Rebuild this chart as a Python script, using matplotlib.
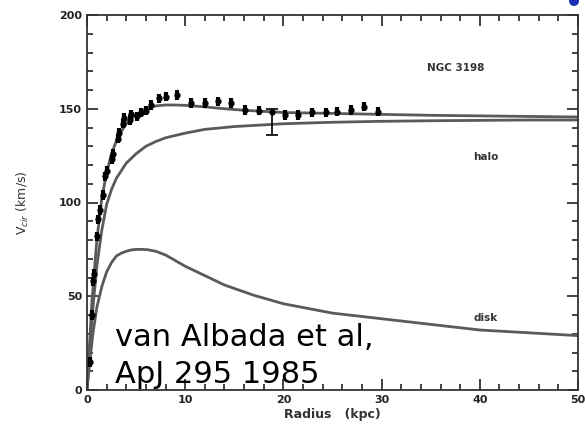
import numpy as np
import matplotlib.pyplot as plt
from matplotlib.ticker import MultipleLocator
from matplotlib.patches import Ellipse

# observed rotation curve points (kpc, km/s)
r_obs = [0.3, 0.5, 0.65, 0.75, 1.0, 1.15, 1.35, 1.6, 1.85, 2.0, 2.5, 2.6, 3.2, 3.25,
         3.7, 3.8, 4.4, 4.5, 5.1, 5.5, 6.0, 6.5, 7.3, 8.0, 9.2,
         10.6, 12.0, 13.3, 14.7, 16.1, 17.5, 20.2, 21.5, 22.9, 24.3, 25.5, 26.9, 28.2, 29.6]
v_obs = [15, 40, 58, 62, 82, 91, 96, 104, 114, 117, 123, 126, 134, 137,
         142, 145, 144, 147, 146, 148, 149, 152, 155.5, 156.4, 157.3,
         153, 153, 154, 153, 149.3, 149, 146.7, 146.7, 148.1, 148.1, 148.4, 149.3, 151.1, 148.4]
verr = 2.5

# the one point with a big asymmetric error bar
r_big = [18.8]
v_big = [148.1]
err_lo = [12]
err_hi = [2]

# model curves
r_tot = [0, 0.5, 1, 1.5, 2, 2.5, 3, 3.5, 4, 5, 6, 7, 8, 9, 10, 12, 14, 16, 18, 20, 25, 30, 35, 40, 45, 50]
v_tot = [0, 47, 80, 102, 116, 126, 133, 138, 142, 147, 150, 151.5, 152, 152, 151.8, 151, 150,
         149.2, 148.6, 148, 147.5, 147, 146.5, 146.2, 145.9, 145.6]

r_halo = [0, 0.5, 1, 1.5, 2, 2.5, 3, 4, 5, 6, 7, 8, 10, 12, 15, 20, 25, 30, 35, 40, 45, 50]
v_halo = [0, 38, 66, 85, 99, 107, 113, 121, 126, 130, 132.5, 134.5, 137, 139, 140.5, 142,
          142.8, 143.3, 143.6, 143.8, 144, 144]

r_disk = [0, 0.3, 0.6, 1, 1.5, 2, 2.5, 3, 3.5, 4, 4.5, 5, 5.6, 6.2, 7, 8, 9, 10, 12, 14, 17,
          20, 25, 30, 35, 40, 45, 50]
v_disk = [0, 16, 30, 44, 55, 63, 68, 71.5, 73, 74, 74.7, 75, 75, 74.8, 74, 72, 69, 66, 61, 56,
          50.5, 46, 41, 38, 35, 32, 30.5, 29]

fig = plt.figure(figsize=(5.85, 4.34), dpi=100)
ax = fig.add_axes([87/585, 44/434, 491/585, 375/434])

lc = '#5a5a5a'
ax.plot(r_tot, v_tot, color=lc, lw=2)
ax.plot(r_halo, v_halo, color=lc, lw=2)
ax.plot(r_disk, v_disk, color=lc, lw=2)

ax.errorbar(r_obs, v_obs, yerr=verr, fmt='o', ms=3.5, color='k', elinewidth=3, capsize=0)
ax.errorbar(r_big, v_big, yerr=[err_lo, err_hi], fmt='o', ms=3.5, color='k',
            elinewidth=1.2, capsize=4, capthick=1.2)

ax.set_xlim(0, 50)
ax.set_ylim(0, 200)
ax.xaxis.set_major_locator(MultipleLocator(10))
ax.xaxis.set_minor_locator(MultipleLocator(2))
ax.yaxis.set_major_locator(MultipleLocator(50))
ax.yaxis.set_minor_locator(MultipleLocator(10))
ax.tick_params(which='both', direction='in', top=True, right=True, width=1.2,
               labelsize=8, colors='#222222')
ax.tick_params(which='major', length=8)
ax.tick_params(which='minor', length=4)
for lbl in ax.get_xticklabels() + ax.get_yticklabels():
    lbl.set_fontweight('bold')
for s in ax.spines.values():
    s.set_linewidth(1.3)
    s.set_color('#333333')

ax.set_xlabel('Radius   (kpc)', fontsize=9, fontweight='bold', color='#333333', labelpad=2)
ax.set_ylabel(r'V$_{cir}$ (km/s)', fontsize=9, color='#333333', labelpad=20)

ax.text(37.5, 171.5, 'NGC 3198', fontsize=7.5, fontweight='bold', color='#333333',
        ha='center', va='center')
ax.text(40.6, 124, 'halo', fontsize=7.5, fontweight='bold', color='#333333',
        ha='center', va='center')
ax.text(40.6, 38.5, 'disk', fontsize=7.5, fontweight='bold', color='#333333',
        ha='center', va='center')

fig.text(115/585, 1 - 346/434, 'van Albada et al,', fontsize=22, color='black',
         ha='left', va='baseline')
fig.text(115/585, 1 - 383/434, 'ApJ 295 1985', fontsize=22, color='black',
         ha='left', va='baseline')

# blue scrap of the slide title at the top right corner
fig.patches.append(Ellipse((574/585, 1 - 1/434), 10/585, 10/434, transform=fig.transFigure,
                           facecolor='#1a2fb0', edgecolor='none'))

fig.savefig('out.png', dpi=100)
